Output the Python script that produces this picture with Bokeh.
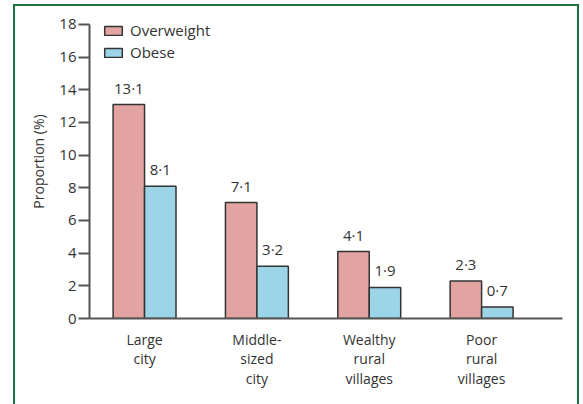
from bokeh.plotting import figure
from bokeh.models import Range1d, ColumnDataSource, Legend, LegendItem, FixedTicker, InlineStyleSheet
from bokeh.core.properties import value
from bokeh.embed import file_html
from bokeh.resources import INLINE

categories = ["Large\ncity", "Middle-\nsized\ncity", "Wealthy\nrural\nvillages", "Poor\nrural\nvillages"]
overweight = [13.1, 7.1, 4.1, 2.3]
obese = [8.1, 3.2, 1.9, 0.7]
overweight_labels = ["13·1", "7·1", "4·1", "2·3"]
obese_labels = ["8·1", "3·2", "1·9", "0·7"]
y_ticks = [0, 2, 4, 6, 8, 10, 12, 14, 16, 18]
y_axis_max = 18

FONT = "Open Sans"
TXT = "#333333"
PINK = "#E3A3A2"
BLUE = "#9DD5E8"
GREEN = "#1b7342"

xs = list(range(len(categories)))
bw = 0.28
src_ow = ColumnDataSource(dict(x=[i - bw / 2 for i in xs], top=overweight, lab=overweight_labels))
src_ob = ColumnDataSource(dict(x=[i + bw / 2 for i in xs], top=obese, lab=obese_labels))

# frame spans a bit above 18 so the legend is not clipped; the y axis line stops at 18
p = figure(width=583, height=404, output_backend="svg", toolbar_location=None,
           x_range=Range1d(-0.49, 3.72), y_range=Range1d(0, 19.224),
           min_border_left=89, min_border_right=21, min_border_top=4, min_border_bottom=86)
p.outline_line_color = None
p.xgrid.visible = False
p.ygrid.visible = False

# decorative green panel border (drawn over the canvas, open at the bottom)
p.stylesheets = [InlineStyleSheet(css=(
    ":host { position: relative; }\n"
    ":host::after { content: ''; position: absolute; left: 13px; top: 4px; width: 562px; height: 398px;"
    f" border: 2px solid {GREEN}; border-bottom: none; pointer-events: none; box-sizing: content-box; }}"
))]

r1 = p.vbar(x="x", top="top", width=bw, source=src_ow, fill_color=PINK, line_color="#333333", line_width=1.5)
r2 = p.vbar(x="x", top="top", width=bw, source=src_ob, fill_color=BLUE, line_color="#333333", line_width=1.5)

for src in (src_ow, src_ob):
    p.text(x="x", y="top", text="lab", source=src, text_align="center", text_baseline="bottom",
           y_offset=-7, text_font=value(FONT), text_font_size="15px", text_color=TXT)

# axes
p.yaxis.ticker = FixedTicker(ticks=y_ticks)
p.yaxis.bounds = (0, y_axis_max)
p.yaxis.axis_label = "Proportion (%)"
p.yaxis.axis_label_text_font = FONT
p.yaxis.axis_label_text_font_size = "14px"
p.yaxis.axis_label_text_font_style = "normal"
p.yaxis.axis_label_text_color = TXT
p.yaxis.axis_label_standoff = 8
p.yaxis.major_label_text_font = FONT
p.yaxis.major_label_text_font_size = "15px"
p.yaxis.major_label_text_color = TXT
p.yaxis.major_tick_out = 11
p.yaxis.major_tick_in = 0
p.yaxis.minor_tick_line_color = None
p.yaxis.major_label_standoff = 2

p.xaxis.ticker = FixedTicker(ticks=xs)
p.xaxis.major_label_overrides = {i: c for i, c in zip(xs, categories)}
p.xaxis.minor_tick_line_color = None
p.xaxis.major_label_text_font = FONT
p.xaxis.major_label_text_font_size = "14px"
p.xaxis.major_label_text_color = TXT
p.xaxis.major_label_text_line_height = 1.05
p.xaxis.major_label_standoff = 5

for ax in (p.xaxis, p.yaxis):
    ax.axis_line_color = "#555555"
    ax.axis_line_width = 2
    ax.major_tick_line_width = 2
p.yaxis.major_tick_line_color = "#555555"
p.xaxis.major_tick_line_color = None

legend = Legend(items=[LegendItem(label="Overweight", renderers=[r1]),
                       LegendItem(label="Obese", renderers=[r2])],
                location=(13, 256), padding=0, margin=0, spacing=2,
                glyph_width=22, glyph_height=11, label_height=20, label_standoff=6,
                label_text_font=FONT, label_text_font_size="15px", label_text_color=TXT,
                border_line_color=None, background_fill_alpha=0)
p.add_layout(legend, "center")

open("out.html", "w").write(file_html(p, INLINE))
